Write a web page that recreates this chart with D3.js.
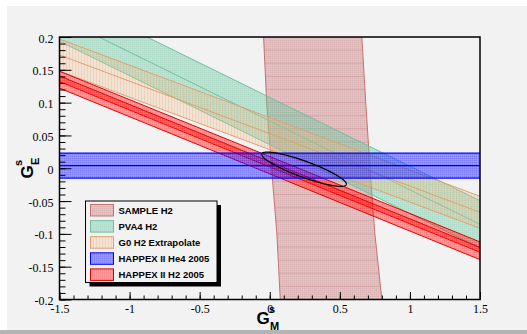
<!DOCTYPE html>
<html>
<head>
<meta charset="utf-8">
<script src="https://cdn.jsdelivr.net/npm/d3@7"></script>
<style>
  html, body { margin: 0; padding: 0; background: #ffffff; }
  svg { display: block; }
</style>
</head>
<body>
<svg id="chart" width="527" height="334"></svg>
<script>
// ---- data -------------------------------------------------------------
const legendLabels = ["SAMPLE H2", "PVA4 H2", "G0 H2 Extrapolate", "HAPPEX II He4 2005", "HAPPEX II H2 2005"];
const xMajorTicks = [-1.5, -1, -0.5, 0, 0.5, 1, 1.5];
const yMajorTicks = [-0.2, -0.15, -0.1, -0.05, 0, 0.05, 0.1, 0.15, 0.2];
const xMinorStep = 0.1;
const yMinorStep = 0.01;

// Linear constraints  G_E = intercept + slope * G_M  (± halfWidth)
const pva4Band = [0.072, -0.105, 0.036];
const g0Band = [0.0527, -0.0799, 0.0244];
const he4Band = [0.004, 0, 0.019];
const h2Bands = [[0.0099, -0.0867, 0.0079], [0.0007, -0.0871, 0.0093]];

// SAMPLE band edges as [G_E, G_M] pairs
const sampleLeftEdge = [[0.2, -0.044], [0.1, -0.022], [0, 0.013], [-0.1, 0.051], [-0.2, 0.075]];
const sampleRightEdge = [[0.2, 0.657], [0.1, 0.685], [0, 0.715], [-0.1, 0.75], [-0.2, 0.80]];

// Combined confidence ellipse: centre and semi-axis vectors [dG_M, dG_E]
const ellipseCentre = [0.245, -0.0015];
const ellipseAxisA = [0.3015, -0.0235];
const ellipseAxisB = [-0.0195, -0.0115];

// ---- layout -----------------------------------------------------------
const W = 527, H = 334;
const plot = { left: 59.5, right: 480, top: 37, bottom: 299.5 };

const svg = d3.select("#chart");
const defs = svg.append("defs");

const x = d3.scaleLinear().domain([-1.5, 1.5]).range([plot.left, plot.right]);
const y = d3.scaleLinear().domain([-0.2, 0.2]).range([plot.bottom, plot.top]);

// pad background
svg.append("rect").attr("x", 7).attr("y", 6).attr("width", W - 7).attr("height", 324).attr("fill", "#f2f2f2");
svg.append("rect").attr("x", 0).attr("y", 330).attr("width", W).attr("height", 4).attr("fill", "#b4b4b4");

// ---- fill patterns: translucent colour with a fine checker texture ------
function checker(id, color, alpha, texture) {
  const p = defs.append("pattern").attr("id", id)
    .attr("width", 2).attr("height", 2).attr("patternUnits", "userSpaceOnUse");
  p.append("rect").attr("width", 2).attr("height", 2).attr("fill", color).attr("fill-opacity", alpha);
  p.append("rect").attr("width", 1).attr("height", 1).attr("fill", color).attr("fill-opacity", texture);
  p.append("rect").attr("x", 1).attr("y", 1).attr("width", 1).attr("height", 1).attr("fill", "#ffffff").attr("fill-opacity", texture);
}
checker("pSample", "#c07070", 0.4, 0.12);
checker("pPva4", "#60c098", 0.38, 0.12);
checker("pHe4", "#0000ff", 0.4, 0.14);
checker("pH2", "#ff0000", 0.38, 0.12);
{
  const p = defs.append("pattern").attr("id", "pG0")
    .attr("width", 3).attr("height", 3).attr("patternUnits", "userSpaceOnUse");
  p.append("rect").attr("width", 3).attr("height", 3).attr("fill", "#f0b888").attr("fill-opacity", 0.28);
  p.append("rect").attr("width", 1).attr("height", 3).attr("fill", "#e0a070").attr("fill-opacity", 0.25);
}

defs.append("clipPath").attr("id", "plotClip").append("rect")
  .attr("x", plot.left).attr("y", plot.top)
  .attr("width", plot.right - plot.left).attr("height", plot.bottom - plot.top);

const area = svg.append("g").attr("clip-path", "url(#plotClip)");

// ---- SAMPLE band --------------------------------------------------------
const samplePoly = sampleLeftEdge.map(d => [x(d[1]), y(d[0])])
  .concat(sampleRightEdge.slice().reverse().map(d => [x(d[1]), y(d[0])]));
defs.append("clipPath").attr("id", "sampleClip").append("polygon")
  .attr("points", samplePoly.map(p => p.join(",")).join(" "));
area.append("polygon")
  .attr("points", samplePoly.map(p => p.join(",")).join(" "))
  .attr("fill", "url(#pSample)");
// segment seams across the SAMPLE band
area.append("g").attr("clip-path", "url(#sampleClip)")
  .selectAll("line").data(d3.range(-9, 10).map(k => k * 0.02)).join("line")
  .attr("x1", plot.left).attr("x2", plot.right)
  .attr("y1", d => y(d)).attr("y2", d => y(d))
  .attr("stroke", "#c07878").attr("stroke-opacity", 0.3).attr("stroke-width", 1);
const edgeLine = d3.line().x(d => x(d[1])).y(d => y(d[0]));
[sampleLeftEdge, sampleRightEdge].forEach(edge => {
  area.append("path").attr("d", edgeLine(edge))
    .attr("fill", "none").attr("stroke", "#c87070").attr("stroke-width", 1);
});

// ---- straight-line bands --------------------------------------------------
function drawBand(band, fill, stroke, centre, strokeWidth) {
  const [b, m, h] = band;
  const gm = [-1.6, 1.6];
  const up = gm.map(g => [x(g), y(b + m * g + h)]);
  const lo = gm.map(g => [x(g), y(b + m * g - h)]);
  const poly = up.concat(lo.slice().reverse());
  area.append("polygon").attr("points", poly.map(p => p.join(",")).join(" ")).attr("fill", fill);
  const lines = [up, lo];
  if (centre) lines.push(gm.map(g => [x(g), y(b + m * g)]));
  lines.forEach(l => {
    area.append("line")
      .attr("x1", l[0][0]).attr("y1", l[0][1]).attr("x2", l[1][0]).attr("y2", l[1][1])
      .attr("stroke", stroke).attr("stroke-width", strokeWidth);
  });
}
drawBand(pva4Band, "url(#pPva4)", "#70c0a0", true, 1);
drawBand(g0Band, "url(#pG0)", "#e0a070", true, 1);
h2Bands.forEach(b => drawBand(b, "url(#pH2)", "#e00000", false, 1));
drawBand(he4Band, "url(#pHe4)", "#0000ff", true, 1.2);

// ---- confidence ellipse -----------------------------------------------------
const ellipsePts = d3.range(0, 2 * Math.PI + 0.01, Math.PI / 90).map(t => [
  ellipseCentre[0] + ellipseAxisA[0] * Math.cos(t) + ellipseAxisB[0] * Math.sin(t),
  ellipseCentre[1] + ellipseAxisA[1] * Math.cos(t) + ellipseAxisB[1] * Math.sin(t)
]);
area.append("path")
  .attr("d", d3.line().x(d => x(d[0])).y(d => y(d[1]))(ellipsePts))
  .attr("fill", "none").attr("stroke", "#000").attr("stroke-width", 1.2);

// ---- axes -----------------------------------------------------------------
const fmt = d => String(d);
const xMinor = d3.range(-15, 16).map(k => +(k * xMinorStep).toFixed(2));
const yMinor = d3.range(-20, 21).map(k => +(k * yMinorStep).toFixed(2));
const serif = "'Liberation Serif', 'Times New Roman', Times, serif";

const gx = svg.append("g").attr("transform", `translate(0,${plot.bottom})`);
gx.append("g").call(d3.axisBottom(x).tickValues(xMinor).tickSize(-4).tickFormat(""));
gx.append("g").call(d3.axisBottom(x).tickValues(xMajorTicks).tickSize(-7.5).tickFormat(fmt));
gx.selectAll("path.domain").remove();
gx.selectAll("g").attr("font-family", serif);
gx.selectAll(".tick line").attr("stroke", "#000").attr("stroke-width", 1);
gx.selectAll(".tick text")
  .attr("y", 13).attr("dy", 0)
  .attr("font-family", serif)
  .attr("font-size", 12).attr("fill", "#000");

const gy = svg.append("g").attr("transform", `translate(${plot.left},0)`);
gy.append("g").call(d3.axisLeft(y).tickValues(yMinor).tickSize(-6).tickFormat(""));
gy.append("g").call(d3.axisLeft(y).tickValues(yMajorTicks).tickSize(-12).tickPadding(6).tickFormat(fmt));
gy.selectAll("path.domain").remove();
gy.selectAll("g").attr("font-family", serif);
gy.selectAll(".tick line").attr("stroke", "#000").attr("stroke-width", 1);
gy.selectAll(".tick text")
  .attr("dy", "0.42em")
  .attr("font-family", serif)
  .attr("font-size", 12).attr("fill", "#000");

// frame
svg.append("rect")
  .attr("x", plot.left).attr("y", plot.top)
  .attr("width", plot.right - plot.left).attr("height", plot.bottom - plot.top)
  .attr("fill", "none").attr("stroke", "#000").attr("stroke-width", 1.5);

// ---- axis titles -------------------------------------------------------------
const titleFont = "'Liberation Sans', Arial, Helvetica, sans-serif";
function gTitle(g, sub) {
  g.append("text").attr("font-family", titleFont).attr("font-weight", "bold").attr("fill", "#000")
    .attr("x", 0).attr("y", 0).attr("font-size", 17).text("G");
  g.append("text").attr("font-family", titleFont).attr("font-weight", "bold").attr("fill", "#000")
    .attr("x", 12.5).attr("y", -10.5).attr("font-size", 11).text("s");
  g.append("text").attr("font-family", titleFont).attr("font-weight", "bold").attr("fill", "#000")
    .attr("x", 13.5).attr("y", 6.5).attr("font-size", 11).text(sub);
}
gTitle(svg.append("g").attr("transform", "translate(256.5,323.5)"), "M");
gTitle(svg.append("g").attr("transform", "translate(32.5,178.5) rotate(-90)"), "E");

// ---- legend ------------------------------------------------------------------
const legend = { x: 85.5, y: 201, w: 131.5, h: 81.5, row: 16.1 };
svg.append("rect").attr("x", legend.x + 4).attr("y", legend.y + 4)
  .attr("width", legend.w).attr("height", legend.h).attr("fill", "#000");
svg.append("rect").attr("x", legend.x).attr("y", legend.y)
  .attr("width", legend.w).attr("height", legend.h)
  .attr("fill", "#f2f2f2").attr("stroke", "#000").attr("stroke-width", 1);

const swatchFill = ["url(#pSample)", "url(#pPva4)", "url(#pG0)", "url(#pHe4)", "url(#pH2)"];
const swatchStroke = ["#c87070", "#70c0a0", "#e0a070", "#0000ff", "#e00000"];
const rows = svg.append("g").selectAll("g").data(legendLabels).join("g")
  .attr("transform", (d, i) => `translate(0,${legend.y + 9 + i * legend.row})`);
rows.append("rect").attr("x", 90.5).attr("y", -5.5).attr("width", 23).attr("height", 11.5)
  .attr("fill", (d, i) => swatchFill[i]).attr("stroke", (d, i) => swatchStroke[i]).attr("stroke-width", 1);
rows.append("text").attr("x", 118.5).attr("y", 3.6)
  .attr("font-family", titleFont).attr("font-weight", "bold").attr("font-size", 9.5).attr("fill", "#000")
  .text(d => d);
</script>
</body>
</html>
